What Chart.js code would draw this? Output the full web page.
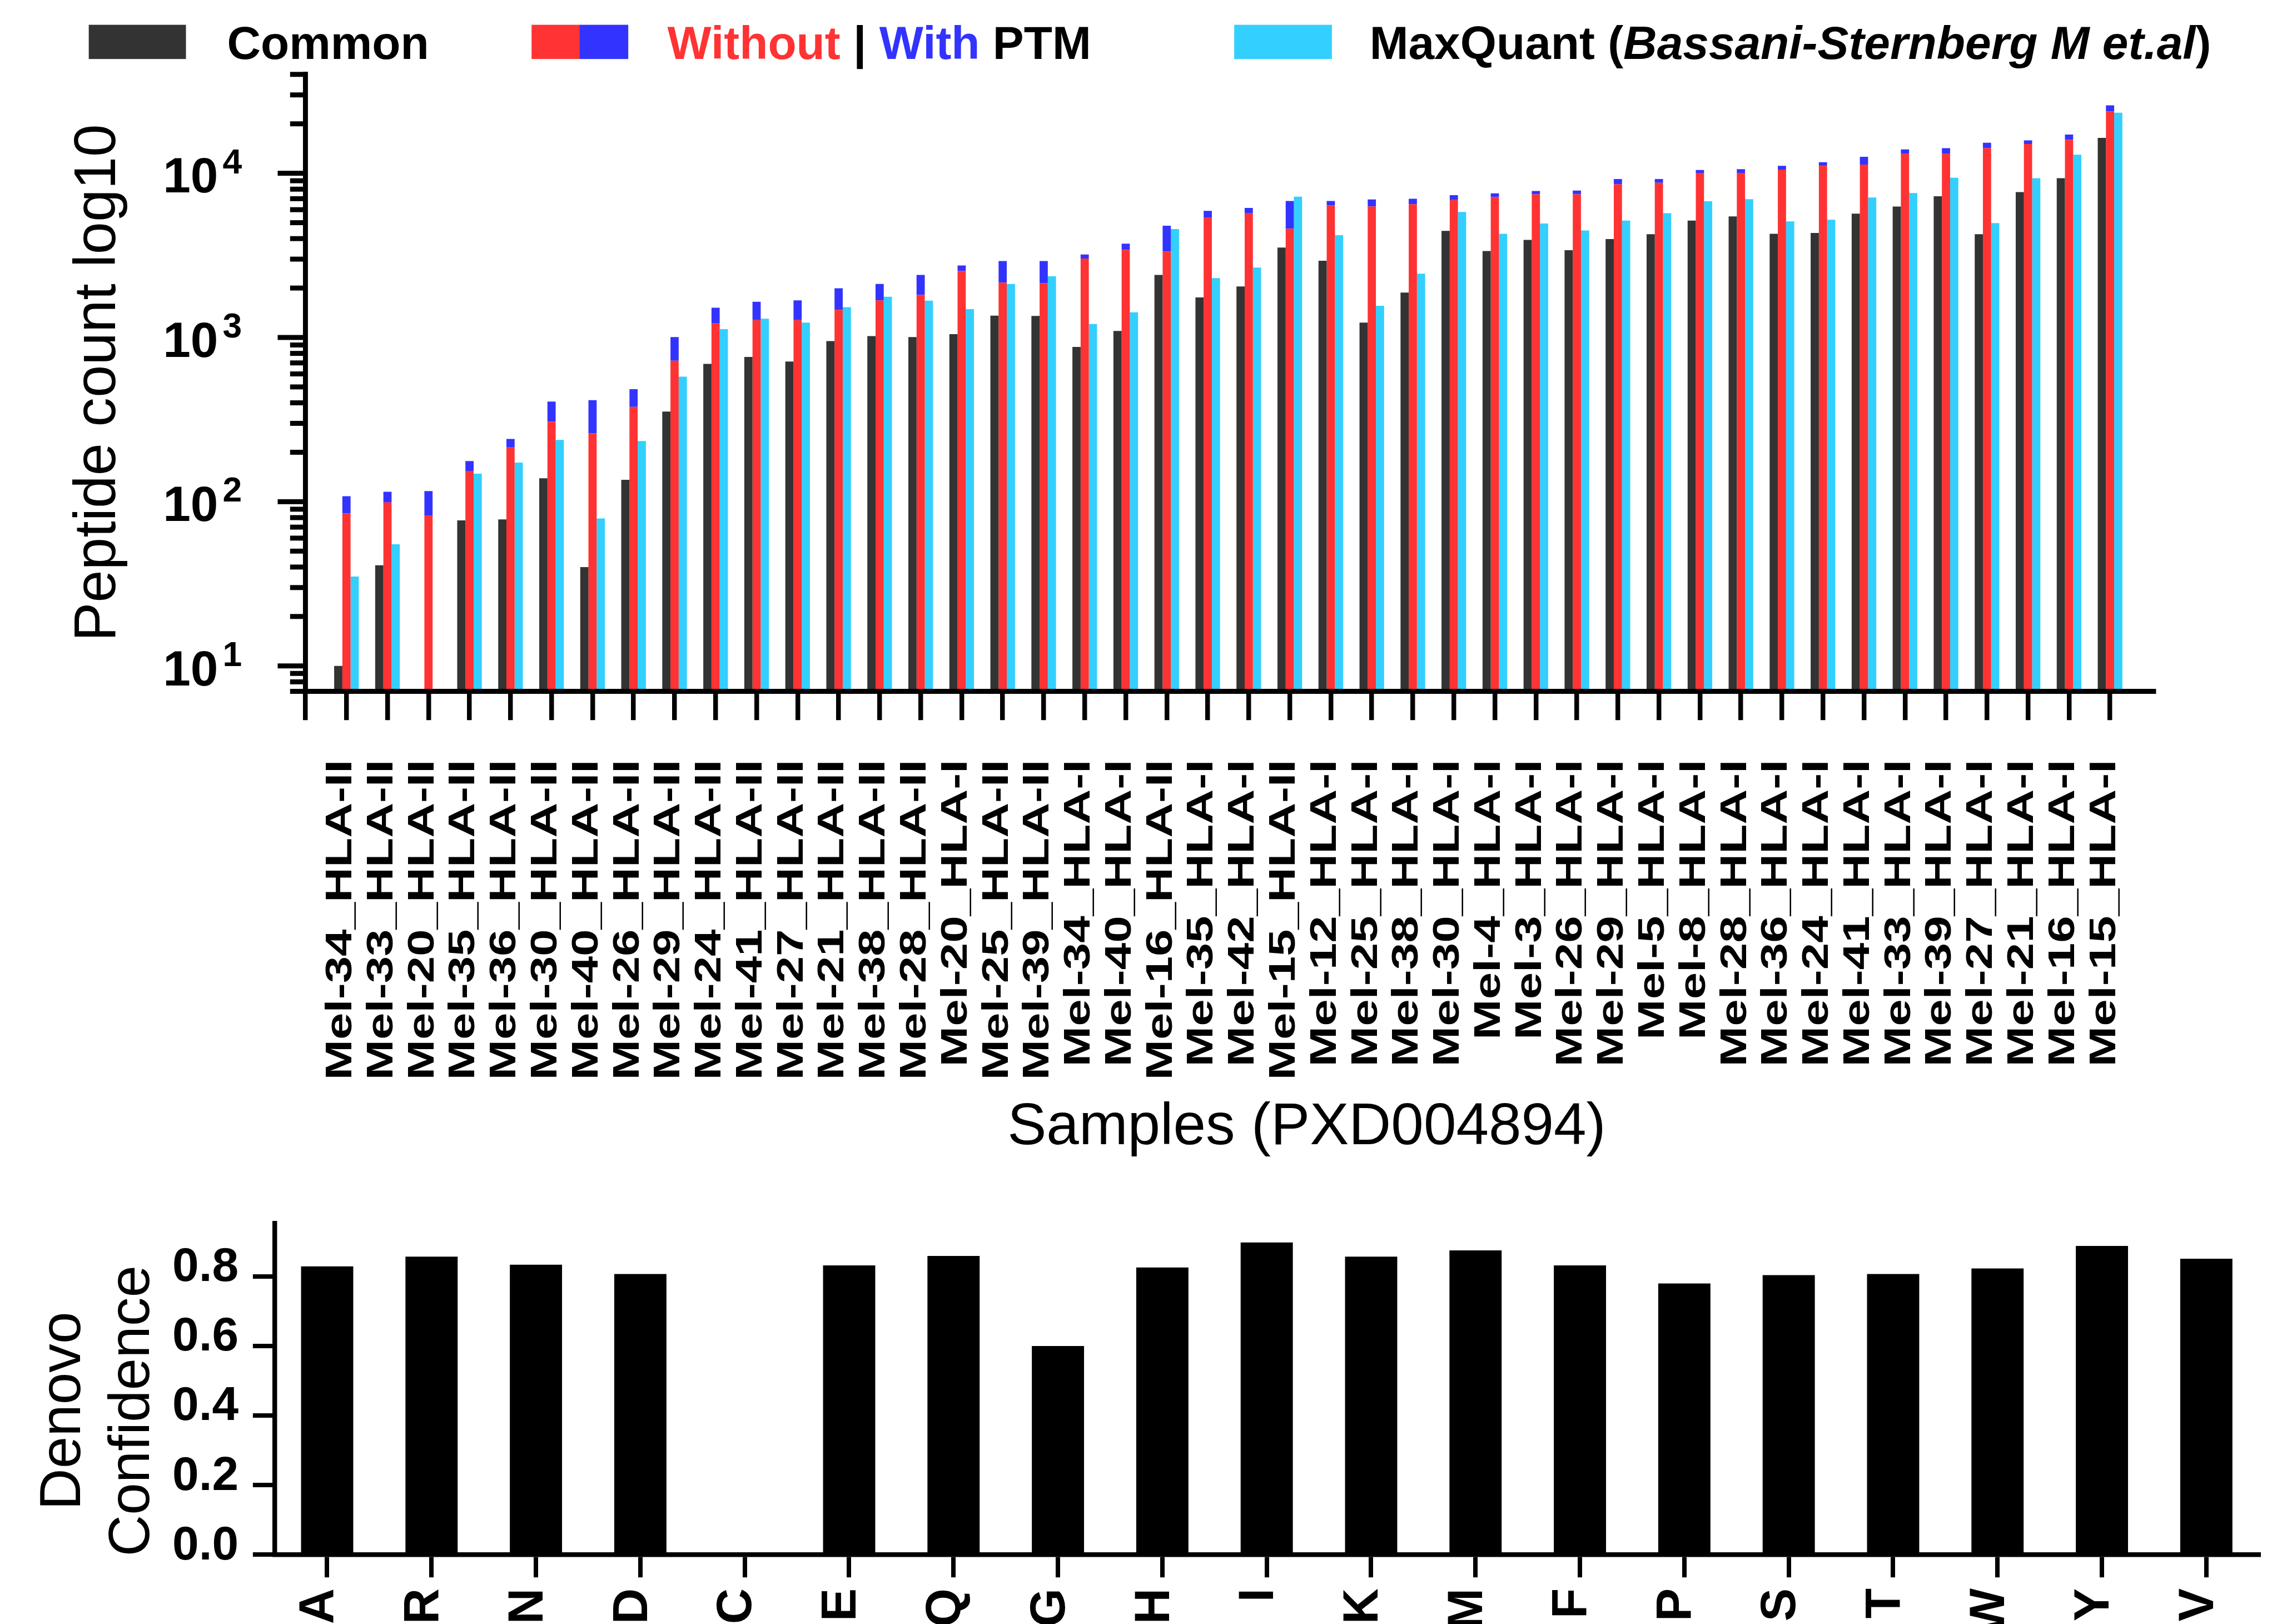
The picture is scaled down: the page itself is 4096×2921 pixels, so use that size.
<!DOCTYPE html>
<html>
<head>
<meta charset="utf-8">
<script src="https://cdn.jsdelivr.net/npm/chart.js@4.4.1/dist/chart.umd.min.js"></script>
<style>
  html, body { margin: 0; padding: 0; background: #fff; }
  body { width: 4096px; height: 2921px; position: relative; overflow: hidden; }
  canvas { position: absolute; left: 0; }
  #top { top: 0; }
  #bottom { top: 2123px; }
</style>
</head>
<body>
<canvas id="top" width="4096" height="2123"></canvas>
<canvas id="bottom" width="4096" height="798"></canvas>
<script>
'use strict';
// everything is laid out in reference pixels and scaled by S
const S = 4096 / 4592;
const FONT = '"Liberation Sans", Arial, sans-serif';

// ─── TOP CHART DATA ──────────────────────────────────────────────────────────
const sampleLabels = [
  'Mel-34_HLA-II','Mel-33_HLA-II','Mel-20_HLA-II','Mel-35_HLA-II','Mel-36_HLA-II',
  'Mel-30_HLA-II','Mel-40_HLA-II','Mel-26_HLA-II','Mel-29_HLA-II','Mel-24_HLA-II',
  'Mel-41_HLA-II','Mel-27_HLA-II','Mel-21_HLA-II','Mel-38_HLA-II','Mel-28_HLA-II',
  'Mel-20_HLA-I','Mel-25_HLA-II','Mel-39_HLA-II','Mel-34_HLA-I','Mel-40_HLA-I',
  'Mel-16_HLA-II','Mel-35_HLA-I','Mel-42_HLA-I','Mel-15_HLA-II','Mel-12_HLA-I',
  'Mel-25_HLA-I','Mel-38_HLA-I','Mel-30_HLA-I','Mel-4_HLA-I','Mel-3_HLA-I',
  'Mel-26_HLA-I','Mel-29_HLA-I','Mel-5_HLA-I','Mel-8_HLA-I','Mel-28_HLA-I',
  'Mel-36_HLA-I','Mel-24_HLA-I','Mel-41_HLA-I','Mel-33_HLA-I','Mel-39_HLA-I',
  'Mel-27_HLA-I','Mel-21_HLA-I','Mel-16_HLA-I','Mel-15_HLA-I'
];
const commonCounts = [
  10, 41, null, 77, 78, 139, 40, 136, 354, 691,
  761, 714, 950, 1020, 1005, 1047, 1358, 1352, 876, 1096,
  2405, 1753, 2044, 3527, 2934, 1233, 1876, 4459, 3361, 3928,
  3399, 3972, 4258, 5148, 5455, 4282, 4332, 5680, 6265, 7242,
  4258, 7672, 9328, 16427
];
const withoutPtm = [
  85, 99, 82, 154, 214, 307, 261, 378, 722, 1217,
  1275, 1275, 1473, 1683, 1817, 2544, 2160, 2139, 3025, 3420,
  3336, 5360, 5700, 4600, 6375, 6278, 6486, 6873, 7155, 7450,
  7450, 8557, 8756, 10048, 10048, 10535, 11090, 11287, 13120, 13120,
  14218, 15066, 15965, 23760
];
const withPtm = [
  108, 115, 116, 177, 241, 407, 415, 484, 1006, 1517,
  1649, 1684, 1992, 2117, 2405, 2747, 2920, 2920, 3201, 3730,
  4793, 5906, 6152, 6778, 6778, 6921, 6995, 7362, 7539, 7801,
  7850, 9226, 9226, 10470, 10593, 11090, 11685, 12595, 13975, 14218,
  15330, 15865, 17196, 25910
];
const maxQuant = [
  35, 55, null, 148, 173, 238, 79, 234, 577, 1125,
  1302, 1231, 1528, 1771, 1675, 1489, 2117, 2357, 1208, 1422,
  4577, 2297, 2664, 7207, 4196, 1559, 2447, 5812, 4282, 4945,
  4484, 5148, 5715, 6755, 6956, 5092, 5210, 7116, 7581, 9386,
  4977, 9328, 12964, 23360
];
const yDecades = [10, 100, 1000, 10000];
const yDecadeExp = ['1', '2', '3', '4'];
const yMinorTicks = [
  7, 8, 9,
  20, 30, 40, 50, 60, 70, 80, 90,
  200, 300, 400, 500, 600, 700, 800, 900,
  2000, 3000, 4000, 5000, 6000, 7000, 8000, 9000,
  20000, 30000, 40000
];

// ─── BOTTOM CHART DATA ───────────────────────────────────────────────────────
const aminoAcids = ['A','R','N','D','C','E','Q','G','H','I','K','M','F','P','S','T','W','Y','V'];
const denovoConfidence = [
  0.829, 0.857, 0.834, 0.807, null, 0.832, 0.859, 0.600, 0.826, 0.898,
  0.857, 0.875, 0.832, 0.780, 0.804, 0.807, 0.823, 0.888, 0.851
];
const confTicks = [0, 0.2, 0.4, 0.6, 0.8];

// ─── HELPERS ─────────────────────────────────────────────────────────────────
const xy = arr => arr.map((v, i) => ({ x: i, y: v }));
const ptmExtra = withPtm.map((v, i) => v - withoutPtm[i]);
const xTickIdx = [-1, ...sampleLabels.map((_, i) => i)];

function drawRuns(ctx, x, y, runs) {
  runs.forEach(r => {
    ctx.font = r.font;
    ctx.fillStyle = r.color;
    ctx.fillText(r.text, x, y);
    x += ctx.measureText(r.text).width;
  });
}

// legend, log tick marks + labels, stretched sample labels, x title
const topDecor = {
  id: 'topDecor',
  afterDraw(chart) {
    const { ctx } = chart;
    const xs = chart.scales.x, ys = chart.scales.y;
    ctx.save();
    ctx.fillStyle = '#000';

    // y ticks (minor short, decades long)
    const axisX = ys.right;
    const tw = 10 * S;
    yMinorTicks.forEach(v => {
      const y = ys.getPixelForValue(v);
      ctx.fillRect(axisX - 31 * S, y - tw / 2, 31 * S, tw);
    });
    yDecades.forEach((v, i) => {
      const y = ys.getPixelForValue(v);
      ctx.fillRect(axisX - 56 * S, y - tw / 2, 56 * S, tw);
      ctx.textBaseline = 'alphabetic';
      ctx.textAlign = 'right';
      ctx.font = `bold ${100 * S}px ${FONT}`;
      ctx.fillText('10', 440 * S, y + 39 * S);
      ctx.textAlign = 'left';
      ctx.font = `bold ${70 * S}px ${FONT}`;
      ctx.fillText(yDecadeExp[i], 449 * S, y);
    });

    // sample labels, rotated and stretched along the text
    ctx.font = `bold ${74 * S}px ${FONT}`;
    ctx.textAlign = 'right';
    ctx.textBaseline = 'alphabetic';
    sampleLabels.forEach((lab, i) => {
      const x = xs.getPixelForValue(i) + 10 * S;
      ctx.save();
      ctx.translate(x, 1532 * S);
      ctx.rotate(-Math.PI / 2);
      ctx.scale(1.32, 1);
      ctx.fillText(lab, 0, 0);
      ctx.restore();
    });

    // x title
    ctx.font = `${118 * S}px ${FONT}`;
    ctx.textAlign = 'center';
    ctx.fillText('Samples (PXD004894)', 2635 * S, 2307 * S);

    // legend
    const base = 119 * S;
    const bold = `bold ${94 * S}px ${FONT}`;
    const boldIt = `italic bold ${94 * S}px ${FONT}`;
    ctx.textAlign = 'left';
    ctx.fillStyle = '#333333';
    ctx.fillRect(179 * S, 50 * S, 196 * S, 69 * S);
    drawRuns(ctx, 458 * S, base, [{ text: 'Common', font: bold, color: '#000' }]);
    ctx.fillStyle = '#FF3333';
    ctx.fillRect(1072 * S, 50 * S, 98 * S, 69 * S);
    ctx.fillStyle = '#3333FF';
    ctx.fillRect(1169 * S, 50 * S, 98 * S, 69 * S);
    drawRuns(ctx, 1346 * S, base, [
      { text: 'Without', font: bold, color: '#FF3333' },
      { text: ' | ', font: bold, color: '#000' },
      { text: 'With', font: bold, color: '#3333FF' },
      { text: ' PTM', font: bold, color: '#000' }
    ]);
    ctx.fillStyle = '#33CFFF';
    ctx.fillRect(2489 * S, 50 * S, 197 * S, 69 * S);
    drawRuns(ctx, 2762 * S, base, [
      { text: 'MaxQuant (', font: bold, color: '#000' },
      { text: 'Bassani-Sternberg M et.al', font: boldIt, color: '#000' },
      { text: ')', font: bold, color: '#000' }
    ]);
    ctx.restore();
  }
};

const bottomDecor = {
  id: 'bottomDecor',
  afterDraw(chart) {
    const { ctx } = chart;
    ctx.save();
    ctx.fillStyle = '#000';
    ctx.font = `${116 * S}px ${FONT}`;
    ctx.textAlign = 'center';
    ctx.textBaseline = 'alphabetic';
    [['Denovo', 161], ['Confidence', 300]].forEach(([t, bx]) => {
      ctx.save();
      ctx.translate(bx * S, 465 * S);
      ctx.rotate(-Math.PI / 2);
      ctx.fillText(t, 0, 0);
      ctx.restore();
    });
    ctx.restore();
  }
};

// ─── TOP CHART ───────────────────────────────────────────────────────────────
new Chart(document.getElementById('top'), {
  type: 'bar',
  data: {
    datasets: [
      { label: 'Common', data: xy(commonCounts), backgroundColor: '#333333', stack: 'common' },
      { label: 'Without PTM', data: xy(withoutPtm), backgroundColor: '#FF3333', stack: 'ptm' },
      { label: 'With PTM', data: xy(ptmExtra), backgroundColor: '#3333FF', stack: 'ptm' },
      { label: 'MaxQuant', data: xy(maxQuant), backgroundColor: '#33CFFF', stack: 'mq' }
    ]
  },
  options: {
    responsive: false,
    animation: false,
    devicePixelRatio: 1,
    layout: { padding: { top: 150 * S, right: 249 * S, left: 0, bottom: 0 } },
    plugins: { legend: { display: false }, tooltip: { enabled: false } },
    datasets: { bar: { categoryPercentage: 0.6, barPercentage: 1.0, borderWidth: 0 } },
    scales: {
      x: {
        type: 'linear', min: -1, max: 44.06, offset: false,
        grid: {
          display: true, offset: false, drawOnChartArea: false, drawTicks: true,
          tickLength: 58 * S, tickWidth: 9.5 * S, tickColor: '#000',
          lineWidth: 9.5 * S, color: '#000'
        },
        border: { display: true, width: 10 * S, color: '#000', z: 1 },
        ticks: { display: false },
        afterBuildTicks: s => { s.ticks = xTickIdx.map(v => ({ value: v })); },
        afterFit: s => { s.height = (2380 - 1394) * S; }
      },
      y: {
        type: 'logarithmic', min: 7, max: 40000, stacked: true,
        grid: { display: false },
        border: { display: true, width: 10 * S, color: '#000', z: 1 },
        ticks: { display: false },
        title: {
          display: true, text: 'Peptide count log10', color: '#000',
          font: { family: FONT, size: 118 * S, weight: 'normal' },
          padding: { top: 129 * S, bottom: 0 }
        },
        afterFit: s => { s.width = 616 * S; }
      }
    }
  },
  plugins: [topDecor]
});

// ─── BOTTOM CHART ────────────────────────────────────────────────────────────
new Chart(document.getElementById('bottom'), {
  type: 'bar',
  data: {
    labels: aminoAcids,
    datasets: [{
      label: 'Denovo Confidence',
      data: denovoConfidence,
      backgroundColor: '#000',
      borderWidth: 0,
      barPercentage: 0.5,
      categoryPercentage: 1.0
    }]
  },
  options: {
    responsive: false,
    animation: false,
    devicePixelRatio: 1,
    layout: { padding: { top: 74 * S, right: 20 * S, left: 0, bottom: 0 } },
    plugins: { legend: { display: false }, tooltip: { enabled: false } },
    scales: {
      x: {
        grid: {
          offset: false, drawOnChartArea: false, drawTicks: true,
          tickLength: 46 * S, tickWidth: 9 * S, tickColor: '#000',
          lineWidth: 9 * S, color: '#000'
        },
        border: { display: true, width: 9.5 * S, color: '#000', z: 1 },
        ticks: {
          autoSkip: false, minRotation: 90, maxRotation: 90,
          padding: 22 * S, labelOffset: -14.5 * S, color: '#000',
          font: { family: FONT, size: 100 * S, weight: 'bold' }
        },
        afterFit: s => { s.height = 140 * S; }
      },
      y: {
        min: 0, max: 0.953,
        grid: {
          drawOnChartArea: false, drawTicks: true,
          tickLength: 44.5 * S, tickWidth: 9 * S, tickColor: '#000',
          lineWidth: 9 * S, color: '#000'
        },
        border: { display: true, width: 9.5 * S, color: '#000', z: 1 },
        ticks: {
          padding: 29 * S, labelOffset: -17 * S, color: '#000',
          font: { family: FONT, size: 96 * S, weight: 'bold' },
          callback: v => Number(v).toFixed(1)
        },
        afterBuildTicks: s => { s.ticks = confTicks.map(v => ({ value: v })); },
        afterFit: s => { s.width = 554.5 * S; }
      }
    }
  },
  plugins: [bottomDecor]
});
</script>
</body>
</html>
